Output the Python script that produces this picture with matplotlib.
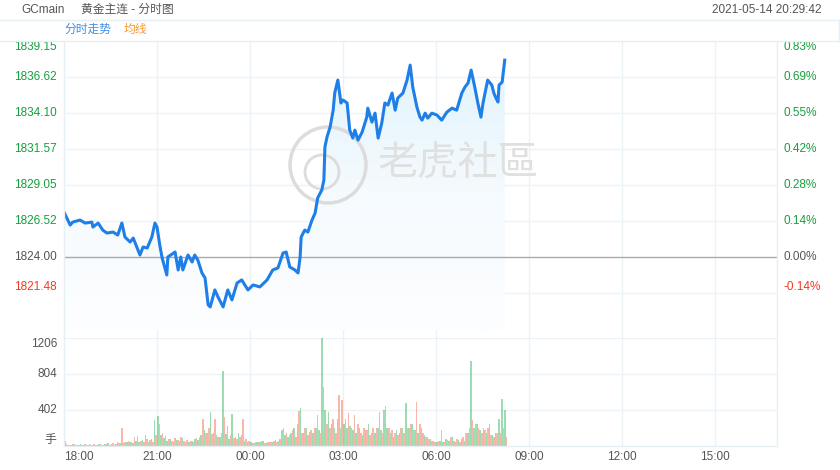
import numpy as np
import matplotlib
matplotlib.use('Agg')
import matplotlib.pyplot as plt
from matplotlib.lines import Line2D
from matplotlib.patches import Circle, Polygon
from matplotlib.colors import LinearSegmentedColormap
from matplotlib.transforms import IdentityTransform

plt.rcParams['font.family'] = ['Liberation Sans', 'Noto Sans CJK SC', 'DejaVu Sans']

# price line: minutes after 18:00 and price
minutes = [0, 12, 17, 31, 41, 54, 56, 66, 75, 83,
           95, 104, 112, 118, 128, 134, 147, 153, 161, 170,
           176, 180, 186, 190, 199, 201, 215, 221, 226, 230,
           240, 248, 253, 259, 267, 273, 279, 283, 292, 298,
           308, 317, 325, 335, 344, 356, 366, 379, 393, 404,
           414, 424, 430, 437, 447, 453, 457, 459, 466, 472,
           480, 486, 491, 499, 503, 505, 509, 515, 521, 524,
           530, 536, 540, 548, 553, 559, 563, 569, 577, 586,
           588, 596, 602, 608, 615, 621, 627, 635, 641, 646,
           656, 664, 670, 675, 683, 689, 693, 699, 704, 712,
           722, 731, 741, 751, 760, 770, 776, 782, 788, 795,
           801, 807, 811, 820, 828, 832, 836, 840, 842, 848,
           853]
prices = [1827.15, 1826.24, 1826.45, 1826.59, 1826.38, 1826.45, 1826.10, 1826.38, 1825.89, 1825.68,
          1825.75, 1825.54, 1826.38, 1825.40, 1825.05, 1825.33, 1824.14, 1824.70, 1824.63, 1825.40,
          1826.38, 1826.10, 1824.70, 1823.93, 1822.74, 1824.00, 1824.35, 1823.09, 1824.00, 1823.09,
          1824.14, 1823.65, 1824.14, 1823.79, 1822.88, 1822.53, 1820.64, 1820.50, 1821.69, 1821.20,
          1820.50, 1821.69, 1820.99, 1822.18, 1822.39, 1821.69, 1822.04, 1821.90, 1822.39, 1823.09,
          1823.23, 1824.28, 1824.35, 1823.30, 1823.09, 1822.88, 1824.00, 1825.40, 1825.89, 1825.75,
          1826.59, 1827.08, 1828.14, 1828.70, 1829.40, 1831.71, 1832.41, 1833.11, 1834.30, 1835.50,
          1836.41, 1834.80, 1835.01, 1834.80, 1832.90, 1832.34, 1832.90, 1832.20, 1832.76, 1833.81,
          1834.44, 1833.46, 1834.09, 1832.34, 1833.39, 1834.80, 1834.66, 1835.50, 1834.30, 1835.15,
          1835.50, 1836.41, 1837.46, 1835.92, 1834.52, 1833.81, 1833.60, 1834.09, 1833.74, 1834.09,
          1833.95, 1833.60, 1834.16, 1834.44, 1834.30, 1835.50, 1835.92, 1836.20, 1837.11, 1835.92,
          1834.80, 1833.81, 1834.80, 1836.41, 1836.06, 1835.50, 1835.15, 1834.87, 1836.06, 1836.27,
          1837.81]

prev_close = 1824.00
price_ticks = [1821.48, 1824.00, 1826.52, 1829.05, 1831.57, 1834.10, 1836.62, 1839.15]

time_ticks = [0, 180, 360, 540, 720, 900, 1080, 1260]
time_labels = ['18:00', '21:00', '00:00', '03:00', '06:00', '09:00', '12:00', '15:00']

# volume, 6 minute bins (up / down)
vol_up = [60, 15, 10, 20, 10, 25, 15, 10, 20, 15,
          15, 20, 10, 25, 30, 20, 15, 40, 30, 35,
          40, 50, 30, 60, 45, 70, 120, 50, 80, 290,
          330, 120, 90, 60, 80, 50, 70, 60, 90, 50,
          50, 60, 80, 70, 120, 180, 150, 380, 150, 120,
          100, 840, 130, 80, 360, 100, 150, 120, 60, 50,
          40, 30, 50, 40, 60, 30, 50, 40, 70, 60,
          180, 120, 100, 150, 200, 250, 420, 150, 200, 160,
          150, 200, 180, 1206, 400, 380, 250, 200, 300, 200,
          250, 200, 220, 180, 150, 200, 120, 180, 250, 150,
          150, 200, 180, 400, 200, 150, 100, 180, 150, 200,
          475, 200, 250, 180, 150, 200, 120, 100, 80, 60,
          50, 60, 40, 80, 60, 100, 50, 70, 80, 60,
          150, 950, 200, 250, 180, 200, 150, 250, 120, 150,
          300, 520, 400]
vol_down = [20, 10, 25, 10, 15, 10, 20, 15, 10, 20,
            10, 25, 15, 20, 15, 30, 20, 35, 200, 40,
            60, 40, 100, 110, 60, 50, 80, 70, 40, 120,
            250, 150, 110, 80, 60, 90, 70, 100, 60, 70,
            60, 40, 90, 100, 300, 150, 200, 130, 300, 100,
            150, 320, 220, 120, 90, 80, 100, 300, 80, 60,
            30, 50, 40, 60, 30, 50, 40, 60, 50, 80,
            200, 150, 120, 180, 100, 390, 150, 200, 120, 180,
            200, 350, 150, 660, 250, 200, 300, 150, 570, 510,
            300, 365, 200, 345, 250, 150, 200, 180, 120, 200,
            200, 385, 150, 445, 200, 180, 150, 120, 200, 150,
            200, 250, 180, 495, 250, 150, 100, 80, 60, 50,
            60, 180, 50, 70, 100, 60, 80, 50, 100, 150,
            200, 290, 250, 200, 150, 180, 200, 120, 100, 150,
            150, 200, 100]
vol_ticks = [402, 804, 1206]

# colors
gridc = '#ebf3f7'
green = '#15a03c'
red = '#f03b22'
gray = '#555555'

W, H = 840, 470
fig = plt.figure(figsize=(8.4, 4.7), dpi=100)

def fx(px):
    return px / W

def fy(py):
    return 1 - py / H

L, R = 64, 777
top, pbot, vtop, vbot = 41, 330, 338, 446
ybot = 1818.88

# background axes just for vertical grid
bg = fig.add_axes([fx(L), fy(vbot), (R - L) / W, (vbot - top) / H], zorder=0)
bg.set_xlim(0, 1380)
for t in time_ticks[1:]:
    bg.axvline(t, color=gridc, lw=1)
bg.axis('off')

###################### PRICE ######################
ax = fig.add_axes([fx(L), fy(pbot), (R - L) / W, (pbot - top) / H], zorder=1)
ax.patch.set_alpha(0)
for v in price_ticks:
    if v != prev_close and v != price_ticks[-1]:
        ax.axhline(v, color=gridc, lw=1, zorder=0)
ax.axhline(prev_close, color='#a9a9a9', lw=1, zorder=2)

# gradient fill under the line
cmap = LinearSegmentedColormap.from_list('fill', ['#fdfeff', '#f4fafe', '#def3fc'])
grad = np.linspace(0, 1, 256).reshape(-1, 1)
im = ax.imshow(grad, extent=[0, 1380, ybot, 1839.15], origin='lower',
               aspect='auto', cmap=cmap, zorder=1)
pts = np.column_stack([[minutes[0]] + minutes + [minutes[-1]],
                       [ybot] + prices + [ybot]])
poly = Polygon(pts, closed=True, transform=ax.transData)
im.set_clip_path(poly)

# watermark
wm = '#dcdcdc'
ax.add_patch(Circle((328, H - 165), 38, transform=IdentityTransform(), fill=False,
                    ec=wm, lw=2.5, zorder=2, clip_on=False))
ax.add_patch(Circle((322, H - 172), 17, transform=IdentityTransform(), fill=False,
                    ec=wm, lw=2, zorder=2, clip_on=False))
ax.text(378, H - 163, '老虎社區', transform=IdentityTransform(), fontsize=29,
        color='#e0e0e0', va='center', ha='left', zorder=2,
        family=['Noto Sans CJK TC'])

ax.plot(minutes, prices, color='#1e7fe8', lw=2.2, zorder=3, solid_joinstyle='round')
ax.set_xlim(0, 1380)
ax.set_ylim(ybot, 1839.15)
ax.axis('off')

# price labels both sides
ytr = ax.get_yaxis_transform()
for v in price_ticks:
    if v > prev_close:
        c = green
    elif v < prev_close:
        c = red
    else:
        c = gray
    va = 'center'
    if v == price_ticks[-1]:
        va = 'top'
    if v == price_ticks[0]:
        va = 'bottom'
    pct = (v - prev_close) / prev_close * 100
    ax.text(-7 / (R - L), v, '%.2f' % v, transform=ytr, ha='right', va=va,
            color=c, fontsize=8.5)
    ax.text(1 + 6 / (R - L), v, '%.2f%%' % pct, transform=ytr, ha='left', va=va,
            color=c, fontsize=8.5)

###################### VOLUME ######################
vax = fig.add_axes([fx(L), fy(vbot), (R - L) / W, (vbot - vtop) / H], zorder=1)
vax.patch.set_alpha(0)
for v in vol_ticks:
    vax.axhline(v, color=gridc, lw=1, zorder=0)
bins = np.arange(len(vol_up)) * 6
vax.bar(bins + 1.5, vol_up, width=3, color='#3dba62', alpha=0.5, linewidth=0, zorder=2)
vax.bar(bins + 4.5, vol_down, width=3, color='#f0603f', alpha=0.45, linewidth=0, zorder=2)
vax.set_xlim(0, 1380)
vax.set_ylim(0, 1206)
vax.axis('off')

vtr = vax.get_yaxis_transform()
for v in vol_ticks:
    vax.text(-7 / (R - L), v, str(v), transform=vtr, ha='right',
             va='top' if v == vol_ticks[-1] else 'center', color=gray, fontsize=8.5)
vax.text(-8 / (R - L), 0, '手', transform=vtr, ha='right', va='bottom',
         color=gray, fontsize=8.5)

# time labels
xtr = vax.get_xaxis_transform()
for t, lab in zip(time_ticks, time_labels):
    vax.text(t, -11 / (vbot - vtop), lab, transform=xtr, color=gray, fontsize=8.5,
             ha='left' if t == 0 else 'center', va='center')

###################### FRAME / HEADER ######################
lc = '#e6eff4'
fig.add_artist(Line2D([0, 1], [fy(20), fy(20)], color=lc, lw=1))
fig.add_artist(Line2D([0, 1], [fy(41), fy(41)], color=lc, lw=1))
fig.add_artist(Line2D([fx(839), fx(839)], [fy(20), fy(41)], color=lc, lw=1))
fig.add_artist(Line2D([fx(L), fx(L)], [fy(41), fy(vbot)], color=lc, lw=1))
fig.add_artist(Line2D([fx(R), fx(R)], [fy(41), fy(vbot)], color=lc, lw=1))
fig.add_artist(Line2D([fx(L), fx(R)], [fy(vbot), fy(vbot)], color=lc, lw=1))

fig.text(fx(21), fy(10), 'GCmain', color=gray, fontsize=8.5, va='center')
fig.text(fx(81), fy(10), '黄金主连 - 分时图', color=gray, fontsize=8.5, va='center')
fig.text(fx(821), fy(10), '2021-05-14 20:29:42', color=gray, fontsize=8.5,
         va='center', ha='right')
fig.text(fx(64), fy(30), '分时走势', color='#3f8fe2', fontsize=8.5, va='center')
fig.text(fx(124), fy(30), '均线', color='#f7992f', fontsize=8.5, va='center')

plt.savefig('out.png', dpi=100)
